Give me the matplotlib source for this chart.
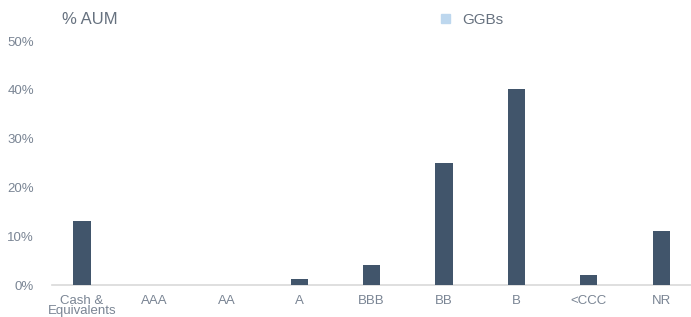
import matplotlib
matplotlib.use("Agg")
import matplotlib.pyplot as plt
from matplotlib.patches import Patch

categories = ["Cash &\nEquivalents", "AAA", "AA", "A", "BBB", "BB", "B", "<CCC", "NR"]
values = [13.1, 0, 0, 1.2, 4.1, 25.0, 40.1, 2.0, 11.1]
yticks = [0, 10, 20, 30, 40, 50]
ytick_labels = ["0%", "10%", "20%", "30%", "40%", "50%"]

W, H = 691, 317
fig = plt.figure(figsize=(W / 100, H / 100), dpi=100)
plt.rcParams['font.family'] = ['Liberation Sans', 'DejaVu Sans']
ax = fig.add_axes([52 / W, (H - 285) / H, (691 - 52) / W, (285 - 41) / H])

bar_color = "#41556b"
text_color = "#7a8594"
x = list(range(len(categories)))
ax.bar(x, values, width=0.235, color=bar_color, zorder=3)

ax.set_xlim((52 - 82) / 72.4, (691 - 82) / 72.4)
ax.set_ylim(0, 50)
ax.set_yticks(yticks)
ax.set_yticklabels(ytick_labels)
ax.set_xticks(x)
ax.set_xticklabels(categories, linespacing=0.85)
ax.tick_params(axis='both', length=0, labelsize=9.5, colors=text_color)
ax.tick_params(axis='x', pad=7)
ax.tick_params(axis='y', pad=13)
for s in ["top", "right", "left"]:
    ax.spines[s].set_visible(False)
ax.spines["bottom"].set_color("#d9d9d9")
ax.spines["bottom"].set_linewidth(1.2)

fig.text(62 / W, 1 - 20 / H, "% AUM", fontsize=12, color="#66717f", va="center", ha="left")
leg = fig.legend(handles=[Patch(color="#bdd7ee", label="GGBs")], loc="center left",
                 bbox_to_anchor=(427 / W, 1 - 20 / H), frameon=False, fontsize=11,
                 handlelength=0.6, handleheight=0.6, handletextpad=0.8)
for t in leg.get_texts():
    t.set_color("#66717f")

fig.savefig("out.png", dpi=100)
